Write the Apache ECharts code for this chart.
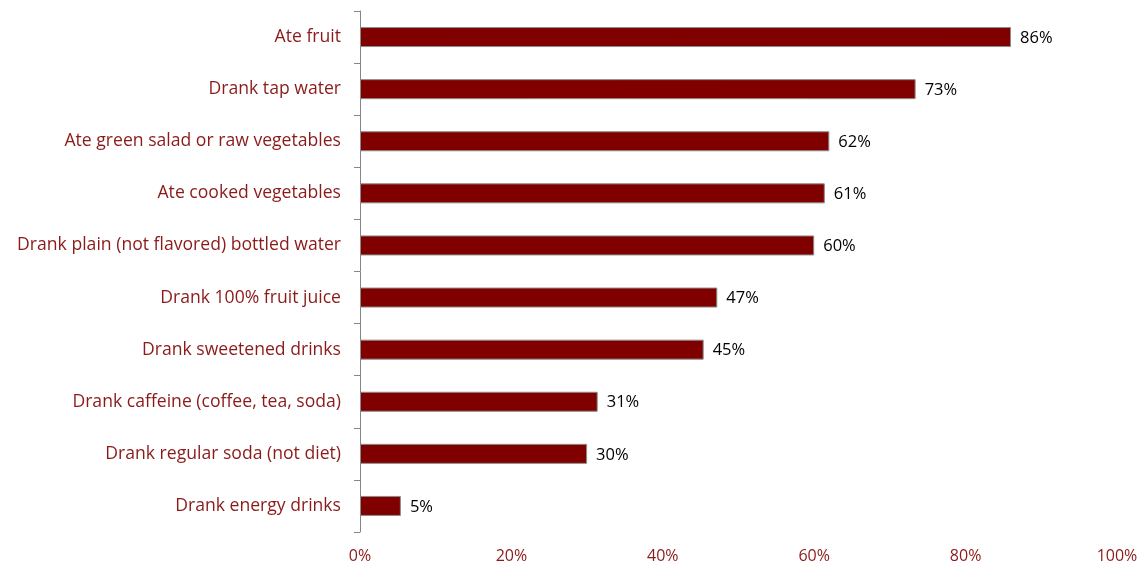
<!DOCTYPE html>
<html>
<head>
<meta charset="utf-8">
<script src="https://cdn.jsdelivr.net/npm/echarts@6/dist/echarts.min.js"></script>
<style>
html,body{margin:0;padding:0;background:#fff;}
#chart{width:1146px;height:568px;}
</style>
</head>
<body>
<div id="chart"></div>
<script>
const categories = [
  "Ate fruit",
  "Drank tap water",
  "Ate green salad or raw vegetables",
  "Ate cooked vegetables",
  "Drank plain (not flavored) bottled water",
  "Drank 100% fruit juice",
  "Drank sweetened drinks",
  "Drank caffeine (coffee, tea, soda)",
  "Drank regular soda (not diet)",
  "Drank energy drinks"
];
const values = [86, 73.4, 62, 61.4, 60, 47.2, 45.4, 31.4, 30, 5.4];
const xTicks = [0, 20, 40, 60, 80, 100];

const chart = echarts.init(document.getElementById('chart'));
const font = '"Open Sans", Lato, sans-serif';
chart.setOption({
  animation: false,
  backgroundColor: '#fff',
  grid: { left: 360, right: 29, top: 11, bottom: 36, containLabel: false },
  xAxis: {
    type: 'value', min: 0, max: 100, interval: 20,
    axisLine: { show: false },
    axisTick: { show: false },
    splitLine: { show: false },
    axisLabel: {
      color: '#8B1A1A', fontFamily: font, fontSize: 16, margin: 16,
      formatter: v => v + '%'
    }
  },
  yAxis: {
    type: 'category', data: categories, inverse: true,
    axisLine: { show: true, lineStyle: { color: '#868686', width: 1 } },
    axisTick: { show: true, length: 6, lineStyle: { color: '#868686' } },
    axisLabel: { color: '#8B1A1A', fontFamily: font, fontSize: 17.6, margin: 19, padding: [3, 0, 0, 0] }
  },
  series: [{
    type: 'bar', data: values, barWidth: 20,
    itemStyle: { color: '#800000', borderColor: '#8c8c8c', borderWidth: 1 },
    label: {
      show: true, position: 'right', distance: 9, color: '#000',
      fontFamily: font, fontSize: 16.5, offset: [0, 1], formatter: p => Math.round(p.value) + '%'
    }
  }]
});
</script>
</body>
</html>
